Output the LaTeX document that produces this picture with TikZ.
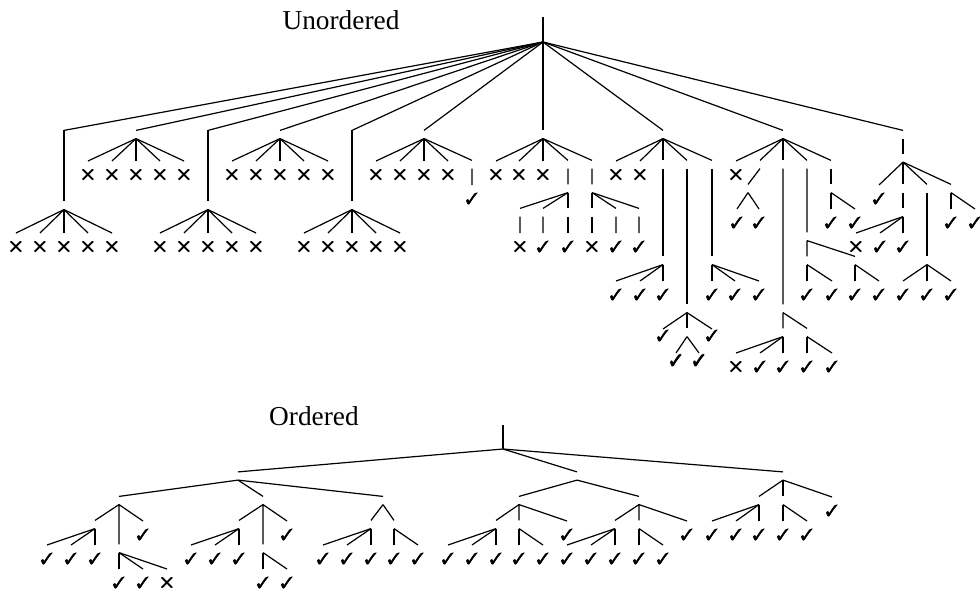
\documentclass[tikz,border=0pt]{standalone}
\usepackage{fontspec}
\setmainfont{Liberation Serif}
\usepackage{pifont}
% dingbats, drawn thrice with a small shift to make them heavier
\newcommand{\heavy}[2]{\rlap{#2}\rlap{\raisebox{#1}{#2}}\kern#1#2}
\newcommand{\cmark}{\heavy{.3pt}{\ding{51}}}
\newcommand{\xmark}{\heavy{.6pt}{\ding{53}}}

\begin{document}
\begin{tikzpicture}[x=0.75pt, y=-0.75pt, line width=0.9pt,
		inode/.style={inner sep=0pt, minimum width=0pt, minimum height=5.25pt},
		lf/.style={anchor=north, inner xsep=0pt, inner ysep=5.5pt, font=\fontsize{12}{12}\selectfont},
		lfs/.style={lf, inner ysep=0.5pt},
		heading/.style={anchor=base, font=\fontsize{20.5}{24}\selectfont}]
		\useasboundingbox (0,0) rectangle (980,592);

		% unordered tree
		\node[heading] (tu) at (341,30) {Unordered};
		\coordinate (rus) at (543,17);
		\coordinate (ru) at (543,42);
		\draw (rus) -- (ru);
		\foreach \n/\x in {1/64,2/136,3/208,4/280,5/352,6/424,7/543,8/663,9/783,10/903} {
			\node[inode] (u\n) at (\x,134.5) {};
			\draw (ru) -- (u\n.north);
		}

		% five crosses, hanging low or high
		\foreach \n/\x in {1/64,3/208,5/352} {
			\node[inode] (u\n a) at (\x,205.5) {};
			\draw (u\n.north) -- (u\n a.north);
			\foreach \d [count=\i] in {-48,-24,0,24,48} {
				\node[lf] (u\n a\i) at (\x+\d,233) {\xmark};
				\draw (u\n a.south) -- (u\n a\i.north);
			}
		}
		\foreach \n/\x in {2/136,4/280} {
			\foreach \d [count=\i] in {-48,-24,0,24,48} {
				\node[lf] (u\n-\i) at (\x+\d,161) {\xmark};
				\draw (u\n.south) -- (u\n-\i.north);
			}
		}

		% sixth
		\foreach \x [count=\i] in {376,400,424,448} {
			\node[lf] (u6-\i) at (\x,161) {\xmark};
			\draw (u6.south) -- (u6-\i.north);
		}
		\node[inode] (u6-5) at (472,164.5) {};
		\node[lf] (u6-5a) at (472,185) {\cmark};
		\draw (u6.south) -- (u6-5.north) (u6-5.south) -- (u6-5a.north);

		% seventh
		\foreach \x [count=\i] in {496,519,543} {
			\node[lf] (u7-\i) at (\x,161) {\xmark};
			\draw (u7.south) -- (u7-\i.north);
		}
		\node[inode] (u7-4) at (568,164.5) {};
		\node[inode] (u7-5) at (592,164.5) {};
		\node[inode] (u7-4a) at (568,188.5) {};
		\node[inode] (u7-5a) at (592,188.5) {};
		\draw (u7.south) -- (u7-4.north) (u7.south) -- (u7-5.north)
			(u7-4.south) -- (u7-4a.north) (u7-5.south) -- (u7-5a.north);
		\foreach \p/\x/\sym [count=\i] in {4a/520/\xmark,4a/543/\cmark,4a/568/\cmark,5a/592/\xmark,5a/616/\cmark,5a/639/\cmark} {
			\node[inode] (u7-b\i) at (\x,212.5) {};
			\node[lf] (u7-c\i) at (\x,233) {\sym};
			\draw (u7-\p.south) -- (u7-b\i.north) (u7-b\i.south) -- (u7-c\i.north);
		}

		% eighth
		\node[lf] (u8-1) at (616,161) {\xmark};
		\node[lf] (u8-2) at (640,161) {\xmark};
		\node[inode] (u8-3) at (663,164.5) {};
		\node[inode] (u8-4) at (687,164.5) {};
		\node[inode] (u8-5) at (712,164.5) {};
		\foreach \i in {1,...,5} \draw (u8.south) -- (u8-\i.north);
		\node[inode] (u8-3a) at (663,260.5) {};
		\node[inode] (u8-4a) at (687,308.5) {};
		\node[inode] (u8-5a) at (712,260.5) {};
		\draw (u8-3.south) -- (u8-3a.north) (u8-4.south) -- (u8-4a.north) (u8-5.south) -- (u8-5a.north);
		\foreach \x [count=\i] in {616,640,663} {
			\node[lf] (u8-3a\i) at (\x,281) {\cmark};
			\draw (u8-3a.south) -- (u8-3a\i.north);
		}
		\foreach \x [count=\i] in {712,735,759} {
			\node[lf] (u8-5a\i) at (\x,281) {\cmark};
			\draw (u8-5a.south) -- (u8-5a\i.north);
		}
		\node[lfs] (u8-4a1) at (663,329) {\cmark};
		\node[inode] (u8-4a2) at (687,332.5) {};
		\node[lfs] (u8-4a3) at (712,329) {\cmark};
		\foreach \i in {1,2,3} \draw (u8-4a.south) -- (u8-4a\i.north);
		\node[lfs] (u8-4b1) at (676,353) {\cmark};
		\node[lfs] (u8-4b2) at (699,353) {\cmark};
		\draw (u8-4a2.south) -- (u8-4b1.north) (u8-4a2.south) -- (u8-4b2.north);

		% ninth
		\node[lf] (u9-1) at (736,161) {\xmark};
		\foreach \i/\x in {2/760,3/783,4/807,5/831} \node[inode] (u9-\i) at (\x,164.5) {};
		\foreach \i in {1,...,5} \draw (u9.south) -- (u9-\i.north);
		\node[inode] (u9-2a) at (748,188.5) {};
		\draw (u9-2.south) -- (u9-2a.north);
		\foreach \x [count=\i] in {737,759} {
			\node[lf] (u9-2b\i) at (\x,209) {\cmark};
			\draw (u9-2a.south) -- (u9-2b\i.north);
		}
		\node[inode] (u9-3a) at (783,308.5) {};
		\node[inode] (u9-3b) at (783,332.5) {};
		\node[inode] (u9-3c) at (807,332.5) {};
		\draw (u9-3.south) -- (u9-3a.north) (u9-3a.south) -- (u9-3b.north) (u9-3a.south) -- (u9-3c.north);
		\foreach \x/\sym [count=\i] in {736/\xmark,760/\cmark,783/\cmark} {
			\node[lf] (u9-3b\i) at (\x,353) {\sym};
			\draw (u9-3b.south) -- (u9-3b\i.north);
		}
		\foreach \x [count=\i] in {807,832} {
			\node[lf] (u9-3c\i) at (\x,353) {\cmark};
			\draw (u9-3c.south) -- (u9-3c\i.north);
		}
		\node[inode] (u9-4a) at (807,236.5) {};
		\node[inode] (u9-4b) at (807,260.5) {};
		\node[inode] (u9-4c) at (855,260.5) {};
		\draw (u9-4.south) -- (u9-4a.north) (u9-4a.south) -- (u9-4b.north) (u9-4a.south) -- (u9-4c.north);
		\foreach \x [count=\i] in {807,832} {
			\node[lf] (u9-4b\i) at (\x,281) {\cmark};
			\draw (u9-4b.south) -- (u9-4b\i.north);
		}
		\foreach \x [count=\i] in {855,879} {
			\node[lf] (u9-4c\i) at (\x,281) {\cmark};
			\draw (u9-4c.south) -- (u9-4c\i.north);
		}
		\node[inode] (u9-5a) at (831,188.5) {};
		\draw (u9-5.south) -- (u9-5a.north);
		\foreach \x [count=\i] in {831,855} {
			\node[lf] (u9-5b\i) at (\x,209) {\cmark};
			\draw (u9-5a.south) -- (u9-5b\i.north);
		}

		% tenth
		\node[inode] (u10a) at (903,158) {};
		\draw (u10.south) -- (u10a.north);
		\node[lf] (u10-1) at (879,185) {\cmark};
		\foreach \i/\x in {2/903,3/927,4/951} \node[inode] (u10-\i) at (\x,188.5) {};
		\foreach \i in {1,...,4} \draw (u10a.south) -- (u10-\i.north);
		\node[inode] (u10-2a) at (903,212.5) {};
		\draw (u10-2.south) -- (u10-2a.north);
		\foreach \x/\sym [count=\i] in {856/\xmark,880/\cmark,903/\cmark} {
			\node[lf] (u10-2b\i) at (\x,233) {\sym};
			\draw (u10-2a.south) -- (u10-2b\i.north);
		}
		\node[inode] (u10-3a) at (927,260.5) {};
		\draw (u10-3.south) -- (u10-3a.north);
		\foreach \x [count=\i] in {903,927,951} {
			\node[lf] (u10-3b\i) at (\x,281) {\cmark};
			\draw (u10-3a.south) -- (u10-3b\i.north);
		}
		\foreach \x [count=\i] in {951,975} {
			\node[lf] (u10-4b\i) at (\x,209) {\cmark};
			\draw (u10-4.south) -- (u10-4b\i.north);
		}

		% ordered tree
		\node[heading] (to) at (314,425) {Ordered};
		\coordinate (ros) at (503,425);
		\coordinate (ro) at (503,449);
		\draw (ros) -- (ro);
		\foreach \n/\x in {a/238,b/577,c/783} {
			\node[inode] (o\n) at (\x,476) {};
			\draw (ro) -- (o\n.north);
		}

		% first branch
		\foreach \i/\x in {1/119,2/263,3/383} {
			\node[inode] (oa\i) at (\x,500.5) {};
			\draw (oa.south) -- (oa\i.north);
		}
		\node[inode] (oa1a) at (95,524.5) {};
		\node[inode] (oa1b) at (119,548.5) {};
		\node[lf] (oa1c) at (143,521) {\cmark};
		\draw (oa1.south) -- (oa1a.north) (oa1.south) -- (oa1b.north) (oa1.south) -- (oa1c.north);
		\foreach \x [count=\i] in {47,71,95} {
			\node[lf] (oa1a\i) at (\x,545) {\cmark};
			\draw (oa1a.south) -- (oa1a\i.north);
		}
		\foreach \x/\sym [count=\i] in {119/\cmark,143/\cmark,167/\xmark} {
			\node[lf] (oa1b\i) at (\x,569) {\sym};
			\draw (oa1b.south) -- (oa1b\i.north);
		}
		\node[inode] (oa2a) at (239,524.5) {};
		\node[inode] (oa2b) at (263,548.5) {};
		\node[lf] (oa2c) at (287,521) {\cmark};
		\draw (oa2.south) -- (oa2a.north) (oa2.south) -- (oa2b.north) (oa2.south) -- (oa2c.north);
		\foreach \x [count=\i] in {191,215,239} {
			\node[lf] (oa2a\i) at (\x,545) {\cmark};
			\draw (oa2a.south) -- (oa2a\i.north);
		}
		\foreach \x [count=\i] in {263,287} {
			\node[lf] (oa2b\i) at (\x,569) {\cmark};
			\draw (oa2b.south) -- (oa2b\i.north);
		}
		\node[inode] (oa3a) at (371,524.5) {};
		\node[inode] (oa3b) at (394,524.5) {};
		\draw (oa3.south) -- (oa3a.north) (oa3.south) -- (oa3b.north);
		\foreach \x [count=\i] in {323,347,371} {
			\node[lf] (oa3a\i) at (\x,545) {\cmark};
			\draw (oa3a.south) -- (oa3a\i.north);
		}
		\foreach \x [count=\i] in {394,418} {
			\node[lf] (oa3b\i) at (\x,545) {\cmark};
			\draw (oa3b.south) -- (oa3b\i.north);
		}

		% second branch
		\foreach \i/\x/\a/\b/\c in {1/519/496/519/567,2/639/615/639/687} {
			\node[inode] (ob\i) at (\x,500.5) {};
			\node[inode] (ob\i a) at (\a,524.5) {};
			\node[inode] (ob\i b) at (\b,524.5) {};
			\node[lf] (ob\i c) at (\c,521) {\cmark};
			\draw (ob.south) -- (ob\i.north) (ob\i.south) -- (ob\i a.north)
				(ob\i.south) -- (ob\i b.north) (ob\i.south) -- (ob\i c.north);
			\foreach \d [count=\j] in {-48,-24,0} {
				\node[lf] (ob\i a\j) at (\a+\d,545) {\cmark};
				\draw (ob\i a.south) -- (ob\i a\j.north);
			}
			\foreach \d [count=\j] in {0,24} {
				\node[lf] (ob\i b\j) at (\b+\d,545) {\cmark};
				\draw (ob\i b.south) -- (ob\i b\j.north);
			}
		}

		% third branch
		\node[inode] (oc1) at (759,500.5) {};
		\node[inode] (oc2) at (783,500.5) {};
		\node[lf] (oc3) at (832,497) {\cmark};
		\foreach \i in {1,2,3} \draw (oc.south) -- (oc\i.north);
		\foreach \x [count=\i] in {712,736,759} {
			\node[lf] (oc1\i) at (\x,521) {\cmark};
			\draw (oc1.south) -- (oc1\i.north);
		}
		\foreach \x [count=\i] in {783,807} {
			\node[lf] (oc2\i) at (\x,521) {\cmark};
			\draw (oc2.south) -- (oc2\i.north);
		}
	\end{tikzpicture}
\end{document}
